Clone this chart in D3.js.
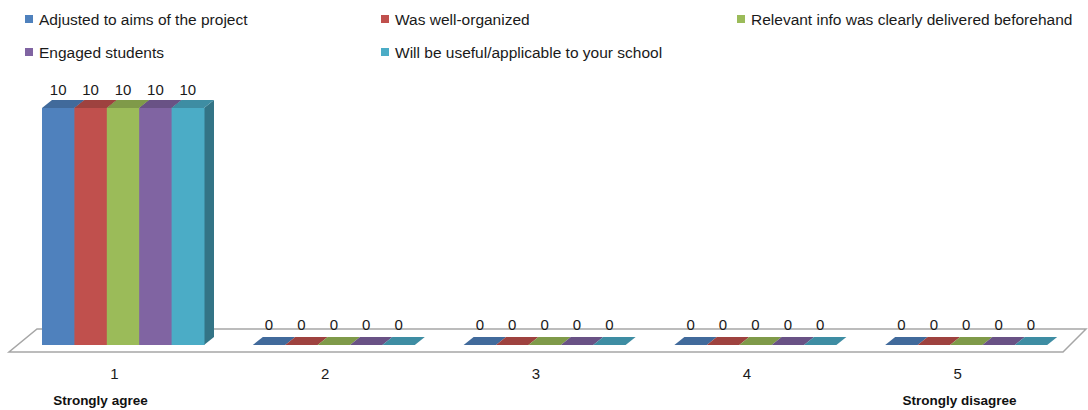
<!DOCTYPE html>
<html>
<head>
<meta charset="utf-8">
<script src="https://cdn.jsdelivr.net/npm/d3@7"></script>
<style>
  body { margin: 0; background: #fff; }
  svg { display: block; font-family: "Liberation Sans", Arial, sans-serif; }
</style>
</head>
<body>
<div class="chart"></div>
<script>
// ---- data ----
var categories = ["1", "2", "3", "4", "5"];
var seriesNames = [
    "Adjusted to aims of the project",
    "Was well-organized",
    "Relevant info was clearly delivered beforehand",
    "Engaged students",
    "Will be useful/applicable to your school"
];
var seriesValues = [
    [10, 0, 0, 0, 0],
    [10, 0, 0, 0, 0],
    [10, 0, 0, 0, 0],
    [10, 0, 0, 0, 0],
    [10, 0, 0, 0, 0]
];
var seriesColors = ["#4F81BD", "#C0504D", "#9BBB59", "#8064A2", "#4BACC6"];
var endLabels = [
    { cat: "1", text: "Strongly agree" },
    { cat: "5", text: "Strongly disagree" }
];

var svgWidth = 1088, svgHeight = 410;

var svg = d3.select(".chart")
    .append("svg")
    .attr("width", svgWidth)
    .attr("height", svgHeight);

// floor geometry (front edge + depth offset)
var floorFront = 352, floorLeft = 9, floorRight = 1063;
var floorDx = 26, floorDy = -23;
// bars sit a bit back from the floor front
var barShiftX = 8.6, barShiftY = -7;
var barDx = 10, barDy = -8;

var xCat = d3.scaleBand()
    .domain(categories)
    .range([floorLeft, floorRight]);

var xSeries = d3.scaleBand()
    .domain(d3.range(seriesNames.length))
    .range([0, 162]);

var y = d3.scaleLinear()
    .domain([0, 10])
    .range([floorFront + barShiftY, 108]);

// floor
svg.append("path")
    .attr("d", `M${floorLeft},${floorFront} L${floorRight},${floorFront} L${floorRight + floorDx - 3},${floorFront + floorDy} L${floorLeft + floorDx + 2},${floorFront + floorDy} Z`)
    .attr("fill", "#fff")
    .attr("stroke", "#a6a6a6")
    .attr("stroke-width", 1.5);

// bars
var groupPad = (xCat.bandwidth() - 162) / 2;
var bars = [];
categories.forEach(function (c, ci) {
    seriesNames.forEach(function (s, si) {
        bars.push({
            cat: c,
            series: si,
            value: seriesValues[si][ci],
            x0: xCat(c) + groupPad + barShiftX + xSeries(si),
            color: seriesColors[si]
        });
    });
});

var barG = svg.append("g");
bars.forEach(function (d) {
    var x0 = d.x0, x1 = d.x0 + xSeries.bandwidth();
    var top = y(d.value), bottom = y(0);
    var c = d3.color(d.color);
    // side
    barG.append("path")
        .attr("d", `M${x1},${top} L${x1 + barDx},${top + barDy} L${x1 + barDx},${bottom + barDy} L${x1},${bottom} Z`)
        .attr("fill", c.darker(1.1));
    // top
    barG.append("path")
        .attr("d", `M${x0},${top} L${x1},${top} L${x1 + barDx},${top + barDy} L${x0 + barDx},${top + barDy} Z`)
        .attr("fill", c.darker(0.55));
    // front
    if (bottom - top > 0) {
        barG.append("rect")
            .attr("x", x0)
            .attr("y", top)
            .attr("width", x1 - x0 + 0.5)
            .attr("height", bottom - top)
            .attr("fill", d.color);
    }
});

// value labels
svg.append("g").selectAll("text")
    .data(bars)
    .enter()
    .append("text")
    .attr("x", d => d.x0 + xSeries.bandwidth() / 2)
    .attr("y", d => y(d.value) - (d.value > 0 ? 13 : 15))
    .attr("text-anchor", "middle")
    .attr("font-size", 15)
    .attr("fill", "#1a1a1a")
    .text(d => d.value);

// category axis labels
svg.append("g").selectAll("text")
    .data(categories)
    .enter()
    .append("text")
    .attr("x", d => xCat(d) + xCat.bandwidth() / 2)
    .attr("y", 379)
    .attr("text-anchor", "middle")
    .attr("font-size", 15)
    .attr("fill", "#1a1a1a")
    .text(d => d);

svg.append("g").selectAll("text")
    .data(endLabels)
    .enter()
    .append("text")
    .attr("x", d => xCat(d.cat) + xCat.bandwidth() / 2 + (d.cat === "1" ? -14 : 2))
    .attr("y", 405)
    .attr("text-anchor", "middle")
    .attr("font-size", 13.5)
    .attr("font-weight", "bold")
    .attr("fill", "#111")
    .text(d => d.text);

// legend
var legendCols = [25, 381, 737], legendRows = [19, 52];
var legend = svg.append("g").selectAll("g")
    .data(seriesNames)
    .enter()
    .append("g")
    .attr("transform", (d, i) => `translate(${legendCols[i % 3]}, ${legendRows[Math.floor(i / 3)]})`);

legend.append("rect")
    .attr("x", 0)
    .attr("y", -4)
    .attr("width", 8)
    .attr("height", 8)
    .attr("fill", (d, i) => seriesColors[i]);

legend.append("text")
    .attr("x", 14)
    .attr("y", 5.5)
    .attr("font-size", 15.5)
    .attr("fill", "#1a1a1a")
    .text(d => d);
</script>
</body>
</html>
